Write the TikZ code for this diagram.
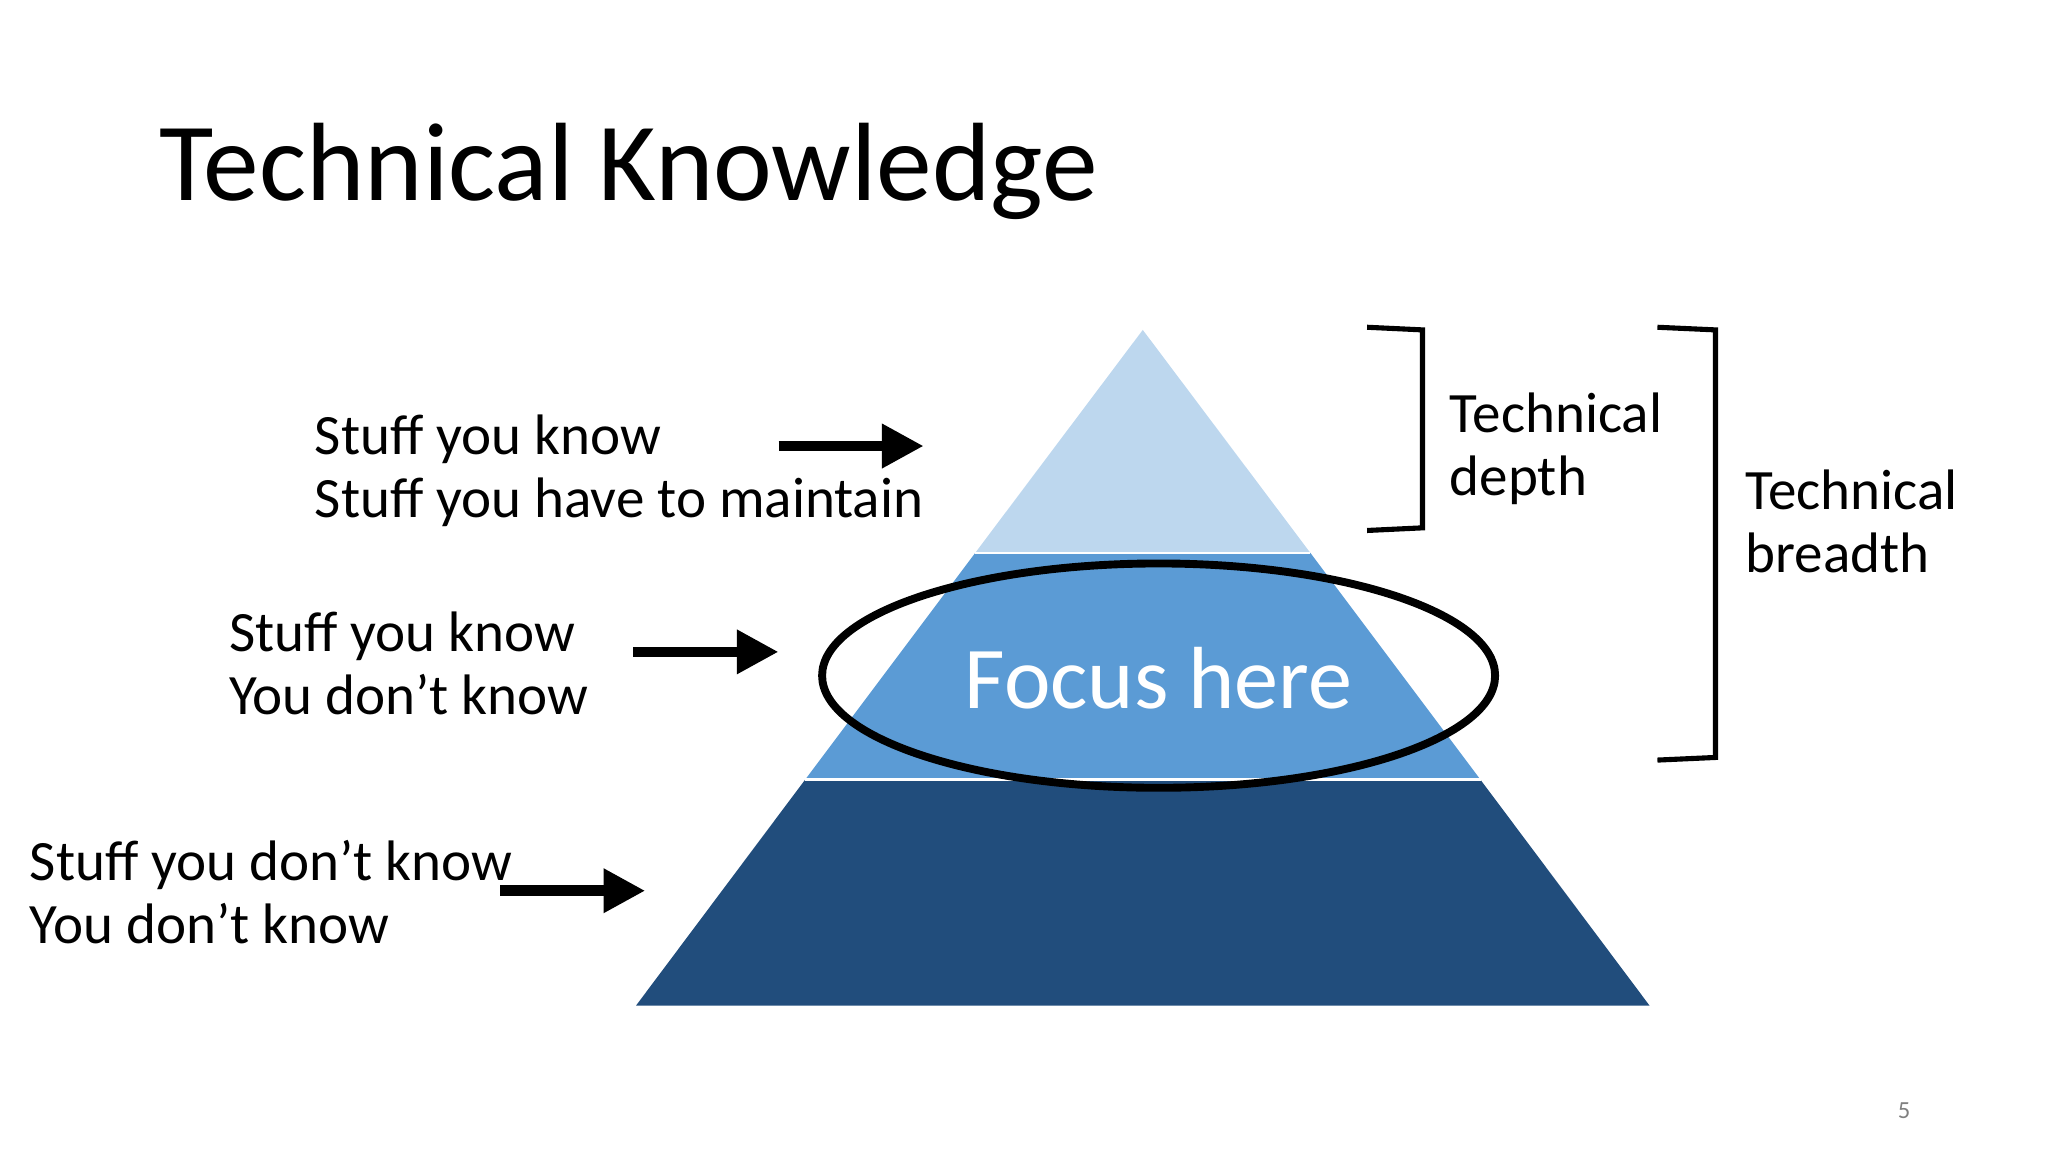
\documentclass[tikz,border=0pt]{standalone}
\usepackage{fontspec}
\setmainfont{Carlito}
\usetikzlibrary{arrows.meta}
\definecolor{ctop}{HTML}{BDD7EE}
\definecolor{cmid}{HTML}{5B9BD5}
\definecolor{cbot}{HTML}{214D7C}
\begin{document}
\begin{tikzpicture}[x=0.01cm,y=-0.01cm,
  lbl/.style={anchor=west,align=left,inner sep=0pt,font=\fontsize{12.3}{13.6}\selectfont},
  arr/.style={line width=2.3pt,-{Triangle[length=9pt,width=9pt]}},
  brk/.style={line width=1.1pt}]
\useasboundingbox (0,0) rectangle (1552,873);
\node[anchor=west,inner sep=0pt,font=\fontsize{24}{28}\selectfont] (title) at (120,130) {Technical Knowledge};
% pyramid
\fill[cbot] (610,591) -- (1122,591) -- (1250,762) -- (482,762) -- cycle;
\fill[cmid] (739,419) -- (993,419) -- (1122,591) -- (610,591) -- cycle;
\fill[ctop] (866,250) -- (993,419) -- (739,419) -- cycle;
\draw[white,line width=0.6pt] (739,419) -- (993,419) (610,591) -- (1122,591);
\node[text=white,font=\fontsize{19}{22}\selectfont,inner sep=0pt] (focus) at (878,514) {Focus here};
\draw[line width=1.7pt] (878,512) ellipse [x radius=255, y radius=85];
% labels
\node[lbl] (t1) at (238,357) {Stuff you know\\Stuff you have to maintain};
\node[lbl] (t2) at (173,503) {Stuff you know\\You don’t know};
\node[lbl] (t3) at (22,676) {Stuff you don’t know\\You don’t know};
\coordinate (a1s) at (590,338); \coordinate (a1e) at (700,338);
\coordinate (a2s) at (480,494); \coordinate (a2e) at (590,494);
\coordinate (a3s) at (379,675); \coordinate (a3e) at (489,675);
\draw[arr] (a1s) -- (a1e);
\draw[arr] (a2s) -- (a2e);
\draw[arr] (a3s) -- (a3e);
% brackets
\draw[brk] (1036,248) -- (1078,250) -- (1078,400) -- (1036,402);
\draw[brk] (1256,248) -- (1300,250) -- (1300,574) -- (1256,576);
\node[lbl] (d) at (1098,340) {Technical\\depth};
\node[lbl] (b) at (1322,395) {Technical\\breadth};
\node[text=gray,font=\fontsize{5.3}{6}\selectfont] (pg) at (1443,842) {5};
\end{tikzpicture}
\end{document}
